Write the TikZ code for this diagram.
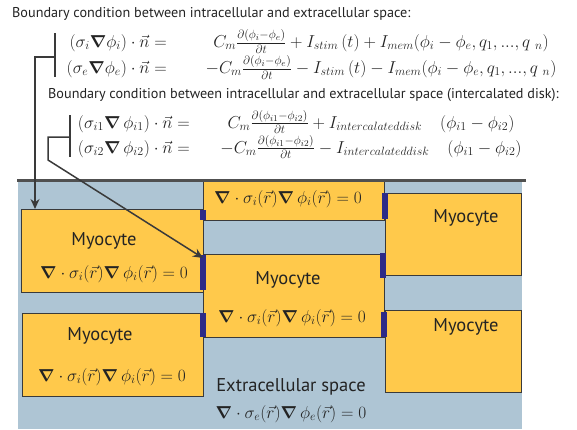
\documentclass[tikz,border=0pt]{standalone}
\usepackage{amsmath, amssymb}
\usepackage{fontspec}
\newfontfamily\sansfam{PT Sans}
\usetikzlibrary{arrows.meta}

\definecolor{bg}{RGB}{174,197,212}
\definecolor{myo}{RGB}{255,201,75}
\definecolor{diskblue}{RGB}{45,43,135}
\definecolor{edge}{RGB}{58,58,58}
\definecolor{topbar}{RGB}{80,80,80}
\definecolor{txt}{RGB}{35,35,35}

\newcommand{\gradb}{\boldsymbol{\nabla}}

\begin{document}
\begin{tikzpicture}[x=1pt,y=-1pt,
  cell/.style={draw=edge, fill=myo, line width=1.4pt, inner sep=0pt, anchor=north west},
  disk/.style={draw=diskblue, line width=6pt},
  link/.style={draw=edge, line width=1.5pt},
  lbl/.style={font=\sansfam\fontsize{18.5}{22}\selectfont, text=txt},
  title/.style={font=\sansfam\fontsize{14.2}{17}\selectfont, anchor=west, inner sep=0pt, text=txt},
  eqn/.style={font=\fontsize{17}{20}\selectfont, text=txt, inner sep=0pt},
  bcA/.style={eqn, font=\fontsize{17.5}{26}\selectfont},
  bcB/.style={eqn, font=\fontsize{18}{25}\selectfont}]
\useasboundingbox (0,0) rectangle (577,429);

% tissue
\fill[bg] (18,181) rectangle (522,429);
\node[cell, minimum width=182pt, minimum height=83pt] (lt) at (21,209) {};
\node[cell, minimum width=181pt, minimum height=40pt] (tm) at (203,180) {};
\node[cell, minimum width=181pt, minimum height=83pt] (mid) at (203,254) {};
\node[cell, minimum width=136pt, minimum height=82pt] (rt) at (385,193) {};
\node[cell, minimum width=136pt, minimum height=82pt] (rb) at (385,310) {};
\node[cell, minimum width=181pt, minimum height=83pt] (lb) at (22,313) {};
\foreach \x/\ya/\yb in {203/210/220, 203/255/290, 203/313/337, 385/193/219, 383/253/278, 384/312/337}
  \draw[disk] (\x,\ya) -- (\x,\yb);
\draw[draw=topbar, line width=3pt] (17,180) -- (526,180);

% labels in the tissue
\node[eqn] (tmeq) at (288,199) {$\gradb\cdot\sigma_i(\vec r)\gradb\,\phi_i(\vec r)=0$};
\node[lbl] (ltname) at (104,241) {Myocyte};
\node[eqn] (lteq) at (114,274) {$\gradb\cdot\sigma_i(\vec r)\gradb\,\phi_i(\vec r)=0$};
\node[lbl] (midname) at (288,280) {Myocyte};
\node[eqn] (mideq) at (292,318) {$\gradb\cdot\sigma_i(\vec r)\gradb\,\phi_i(\vec r)=0$};
\node[lbl] (rtname) at (466,218) {Myocyte};
\node[lbl] (rbname) at (466,327) {Myocyte};
\node[lbl] (lbname) at (100,336) {Myocyte};
\node[eqn] (lbeq) at (112,377) {$\gradb\cdot\sigma_i(\vec r)\gradb\,\phi_i(\vec r)=0$};
\node[lbl] (exname) at (291,387) {Extracellular space};
\node[eqn] (exeq) at (291,414) {$\gradb\cdot\sigma_e(\vec r)\gradb\,\phi_e(\vec r)=0$};

% boundary conditions
\node[title] (head1) at (12,14) {Boundary condition between intracellular and extracellular space:};
\node[bcA, anchor=east] (bc1l) at (167,55) {$\begin{array}{@{}r@{}}
 (\sigma_i\gradb\phi_i)\cdot\vec n =\\
 (\sigma_e\gradb\phi_e)\cdot\vec n =
\end{array}$};
\node[bcA] (bc1r) at (381,55) {$\begin{array}{@{}c@{}}
 C_m\frac{\partial(\phi_i-\phi_e)}{\partial t}+I_{stim}\,(t)+I_{mem}(\phi_i-\phi_e,q_1,...,q_{\ n})\\
 -C_m\frac{\partial(\phi_i-\phi_e)}{\partial t}-I_{stim}\,(t)-I_{mem}(\phi_i-\phi_e,q_1,...,q_{\ n})
\end{array}$};
\node[title] (head2) at (48,95) {Boundary condition between intracellular and extracellular space (intercalated disk):};
\node[bcB, anchor=east] (bc2l) at (190,135.5) {$\begin{array}{@{}r@{}}
 (\sigma_{i1}\gradb\,\phi_{i1})\cdot\vec n =\\
 (\sigma_{i2}\gradb\,\phi_{i2})\cdot\vec n =
\end{array}$};
\node[bcB] (bc2r) at (371,135.5) {$\begin{array}{@{}c@{}}
 C_m\frac{\partial(\phi_{i1}-\phi_{i2})}{\partial t}+I_{intercalateddisk}\quad(\phi_{i1}-\phi_{i2})\\
 -C_m\frac{\partial(\phi_{i1}-\phi_{i2})}{\partial t}-I_{intercalateddisk}\quad(\phi_{i1}-\phi_{i2})
\end{array}$};

% brackets and arrows
\coordinate (br1) at (55,57);
\coordinate (k1) at (35,57);
\coordinate (br2) at (70,137);
\coordinate (k2) at (48,137);
\draw[link] (55,33) -- (55,77);
\draw[link] (70,115) -- (70,157);
\draw[link, -{Stealth[length=10pt,width=9pt]}] (br1) -- (k1) -- (k1 |- lt.north);
\draw[link, -{Stealth[length=10pt,width=9pt]}] (br2) -- (k2) -- ++(0,23) -- ([yshift=-4pt]mid.north west);
\end{tikzpicture}
\end{document}
